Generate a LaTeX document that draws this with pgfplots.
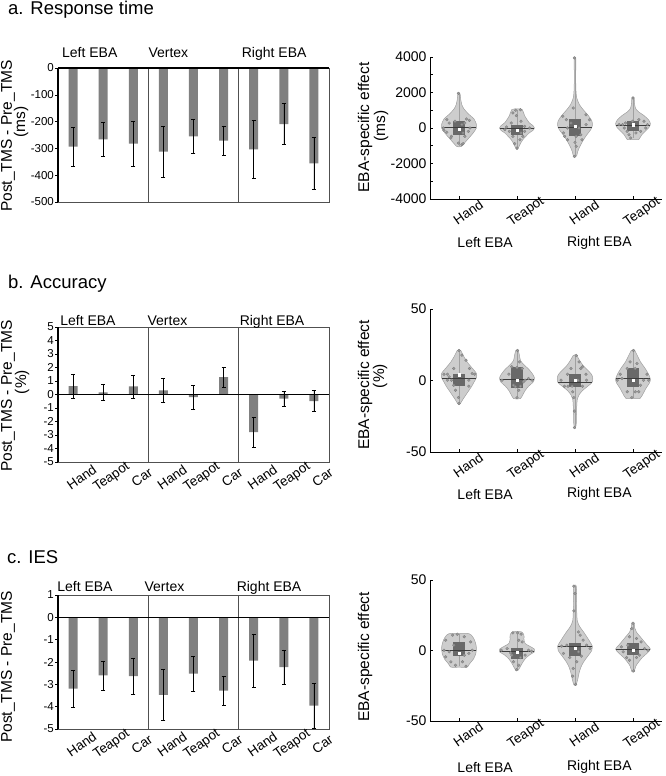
\documentclass[border=0pt]{standalone}
\usepackage{fontspec}
\setmainfont{Liberation Sans}
\usepackage{pgfplots}
\usepackage{pgfplotstable}
\pgfplotsset{compat=1.18}

\definecolor{bargray}{RGB}{128,128,128}
\definecolor{vfill}{RGB}{205,205,205}
\definecolor{vedge}{RGB}{160,160,160}
\definecolor{ptfill}{RGB}{155,155,155}
\definecolor{ptedge}{RGB}{125,125,125}
\definecolor{boxgray}{RGB}{105,105,105}
\definecolor{meanline}{RGB}{60,60,60}
\definecolor{framec}{RGB}{80,80,80}

% ---------- violin outlines (y, half-width) ----------
\pgfplotstableread[row sep=\\]{y w\\ 2000 0\\ 1900 0.02\\ 1600 0.03\\ 1350 0.045\\ 1100 0.08\\ 800 0.16\\ 500 0.26\\ 200 0.30\\ 0 0.30\\ -300 0.24\\ -600 0.16\\ -900 0.08\\ -1030 0.045\\ -1060 0\\}\VaA
\pgfplotstableread[row sep=\\]{y w\\ 1080 0\\ 1040 0.09\\ 700 0.13\\ 300 0.21\\ 150 0.27\\ 0 0.30\\ -150 0.27\\ -280 0.21\\ -660 0.10\\ -940 0.05\\ -1150 0.02\\ -1230 0\\}\VaB
\pgfplotstableread[row sep=\\]{y w\\ 3980 0\\ 3900 0.015\\ 3000 0.012\\ 2200 0.015\\ 1700 0.03\\ 1300 0.08\\ 1000 0.15\\ 700 0.23\\ 400 0.29\\ 150 0.30\\ -100 0.27\\ -400 0.20\\ -700 0.14\\ -1000 0.09\\ -1300 0.05\\ -1550 0.03\\ -1650 0\\}\VaC
\pgfplotstableread[row sep=\\]{y w\\ 1760 0\\ 1700 0.02\\ 1400 0.025\\ 1100 0.045\\ 900 0.10\\ 700 0.19\\ 450 0.27\\ 250 0.30\\ 50 0.28\\ -150 0.22\\ -350 0.16\\ -550 0.12\\ -650 0.10\\ -660 0\\}\VaD

\pgfplotstableread[row sep=\\]{y w\\ 21.5 0\\ 21 0.03\\ 17 0.08\\ 13 0.14\\ 9 0.22\\ 5 0.30\\ 2 0.30\\ -1 0.26\\ -4 0.22\\ -7 0.17\\ -10 0.12\\ -13 0.07\\ -16.3 0.02\\ -16.8 0\\}\VbA
\pgfplotstableread[row sep=\\]{y w\\ 21.5 0\\ 21 0.02\\ 18 0.04\\ 14 0.06\\ 11 0.12\\ 8 0.20\\ 5 0.26\\ 2 0.30\\ -1 0.28\\ -4 0.20\\ -7 0.14\\ -10 0.10\\ -12.6 0.06\\ -12.8 0\\}\VbB
\pgfplotstableread[row sep=\\]{y w\\ 18 0\\ 17.5 0.03\\ 14 0.08\\ 10 0.15\\ 6 0.25\\ 3 0.30\\ -1 0.30\\ -4 0.22\\ -7 0.13\\ -10 0.07\\ -13 0.04\\ -18 0.03\\ -25 0.025\\ -31 0.02\\ -33.8 0\\}\VbC
\pgfplotstableread[row sep=\\]{y w\\ 21.5 0\\ 21 0.03\\ 17 0.08\\ 13 0.13\\ 9 0.20\\ 5 0.26\\ 1 0.30\\ -2 0.28\\ -5 0.23\\ -8 0.19\\ -11 0.15\\ -12.6 0.12\\ -12.7 0\\}\VbD

\pgfplotstableread[row sep=\\]{y w\\ 12 0\\ 12 0.17\\ 9.5 0.24\\ 6 0.28\\ 2 0.30\\ -2 0.29\\ -6 0.25\\ -9.5 0.18\\ -11.8 0.14\\ -11.8 0\\}\VcA
\pgfplotstableread[row sep=\\]{y w\\ 13.5 0\\ 13.2 0.08\\ 11 0.12\\ 8 0.12\\ 5 0.14\\ 3 0.22\\ 1 0.30\\ -1 0.30\\ -3 0.22\\ -6 0.14\\ -9 0.09\\ -12 0.05\\ -14 0.02\\ -14.3 0\\}\VcB
\pgfplotstableread[row sep=\\]{y w\\ 46.5 0\\ 46 0.02\\ 40 0.03\\ 33 0.025\\ 27 0.03\\ 21 0.04\\ 17 0.08\\ 13 0.15\\ 8 0.23\\ 3 0.30\\ 0 0.29\\ -4 0.22\\ -8 0.15\\ -12 0.10\\ -16 0.07\\ -20 0.05\\ -24.3 0.02\\ -24.8 0\\}\VcC
\pgfplotstableread[row sep=\\]{y w\\ 20 0\\ 19.6 0.02\\ 16 0.03\\ 13 0.06\\ 10 0.12\\ 7 0.18\\ 4 0.24\\ 1 0.30\\ -2 0.24\\ -5 0.16\\ -8 0.10\\ -11 0.05\\ -15 0.02\\ -15.3 0\\}\VcD

% ---------- individual points (dx, y) ----------
\pgfplotstableread[row sep=\\]{dx y\\ -0.01 1950\\ -0.21 470\\ -0.17 280\\ -0.26 -130\\ -0.21 -240\\ -0.13 -470\\ -0.14 -560\\ -0.01 -850\\ 0.05 -940\\ 0.07 -880\\ -0.07 380\\ 0.13 510\\ 0.18 430\\ 0.10 280\\ 0.05 190\\ 0.19 0\\ 0.16 -190\\ 0.07 -280\\ 0.10 -470\\ -0.27 0\\}\PaA
\pgfplotstableread[row sep=\\]{dx y\\ -0.02 1000\\ 0.06 1030\\ -0.07 850\\ -0.01 700\\ -0.10 280\\ 0.07 380\\ 0.13 90\\ 0.22 0\\ -0.21 -90\\ -0.13 -190\\ 0.13 -190\\ 0.10 -470\\ -0.07 -470\\ -0.04 -880\\ 0.0 -1130\\ 0.05 -660\\ 0.07 -280\\ -0.18 56\\}\PaB
\pgfplotstableread[row sep=\\]{dx y\\ -0.01 3950\\ -0.03 1130\\ -0.21 660\\ -0.15 470\\ 0.19 750\\ 0.25 470\\ 0.19 190\\ -0.20 -280\\ -0.18 -470\\ -0.13 -660\\ 0.02 -470\\ 0.10 -380\\ 0.12 -660\\ 0.0 -810\\ 0.02 -1030\\ -0.01 -1600\\ -0.07 280\\ 0.07 0\\ -0.13 0\\}\PaC
\pgfplotstableread[row sep=\\]{dx y\\ 0.0 1690\\ -0.24 190\\ -0.18 190\\ -0.13 280\\ 0.10 470\\ 0.19 380\\ 0.25 190\\ 0.22 0\\ -0.07 -380\\ -0.04 -560\\ 0.05 -280\\ 0.13 -190\\ -0.10 -190\\ -0.01 380\\ -0.15 0\\}\PaD

\pgfplotstableread[row sep=\\]{dx y\\ 0.0 21\\ 0.05 17.7\\ 0.12 14.2\\ -0.09 8.4\\ 0.18 8.4\\ -0.26 4.4\\ -0.2 4.4\\ 0.23 4.9\\ 0.27 4.4\\ -0.2 0.2\\ -0.13 0.2\\ 0.17 0.2\\ -0.09 -3.3\\ 0.17 -4\\ -0.06 -6.8\\ -0.01 -11.9\\ 0.0 -16.1\\ -0.17 2.6\\}\PbA
\pgfplotstableread[row sep=\\]{dx y\\ 0.01 21\\ 0.04 13\\ -0.09 9.6\\ 0.0 9.1\\ 0.09 8.4\\ -0.14 4.4\\ 0.2 1.4\\ 0.26 0.2\\ -0.26 0.2\\ 0.14 0.2\\ -0.06 -3.3\\ 0.06 -4\\ -0.03 -4.4\\ 0.03 -6.8\\ 0.0 -12.1\\ 0.11 -0.9\\}\PbB
\pgfplotstableread[row sep=\\]{dx y\\ 0.02 17.5\\ 0.07 13\\ -0.07 8.4\\ 0.10 8.4\\ 0.13 9.6\\ -0.13 4.4\\ 0.19 4.4\\ -0.24 0.2\\ -0.18 -4\\ -0.12 -4\\ -0.05 -4\\ 0.13 -4\\ 0.2 0.2\\ -0.04 -7.9\\ -0.02 -11.9\\ -0.01 -21.4\\ -0.01 -32.9\\ 0.05 0.2\\}\PbC
\pgfplotstableread[row sep=\\]{dx y\\ 0.01 21\\ -0.05 13\\ 0.07 11.9\\ -0.1 8.4\\ 0.04 8.4\\ -0.22 4.4\\ 0.24 4.4\\ -0.27 0.2\\ 0.27 0.2\\ 0.18 0.2\\ -0.1 -7.9\\ 0.04 -7.9\\ 0.1 -7.9\\ -0.02 -11.9\\ -0.19 1.4\\ 0.13 -3.3\\}\PbD

\pgfplotstableread[row sep=\\]{dx y\\ -0.23 7.3\\ -0.11 10.9\\ -0.03 11.6\\ 0.09 9.7\\ 0.2 6.1\\ -0.26 0.2\\ -0.17 -0.9\\ -0.23 -4.5\\ -0.14 -8\\ -0.06 -10.4\\ 0.12 -11.2\\ 0.06 -8\\ 0.17 -2.1\\ 0.23 0.2\\ -0.09 3.8\\ 0.09 -3.3\\}\PcA
\pgfplotstableread[row sep=\\]{dx y\\ -0.07 12.5\\ 0.01 12.5\\ 0.07 11.6\\ 0.03 7.3\\ 0.09 6.1\\ -0.17 1.4\\ -0.27 0.2\\ 0.2 0.2\\ 0.25 -0.5\\ -0.09 -3.3\\ 0.06 -5\\ -0.06 -8\\ 0.03 -10.4\\ -0.01 -13.6\\ 0.14 -3.3\\ -0.11 -1.7\\}\PcB
\pgfplotstableread[row sep=\\]{dx y\\ -0.02 45.6\\ 0.0 40.4\\ -0.02 28.1\\ 0.06 13.2\\ 0.09 10.9\\ 0.14 7.3\\ -0.23 3.1\\ -0.14 3.8\\ 0.2 3.8\\ 0.26 1.4\\ -0.2 -2.1\\ -0.09 -5\\ 0.11 -4\\ 0.03 -8\\ -0.03 -12.8\\ -0.04 -18.2\\ 0.01 -24\\ 0.06 -0.9\\}\PcC
\pgfplotstableread[row sep=\\]{dx y\\ 0.0 19.4\\ -0.02 15.6\\ -0.06 9.7\\ 0.06 8.5\\ 0.14 6.1\\ -0.2 2.6\\ -0.17 -0.9\\ 0.2 1.4\\ 0.26 0.2\\ -0.11 -5\\ 0.06 -5\\ 0.11 -3.3\\ -0.06 -6.9\\ 0.01 -14.4\\ -0.09 3.8\\}\PcD

\newcommand{\violin}[2]{%
  \addplot[fill=vfill, draw=vedge, line width=0.5pt, smooth] table[x expr=#1-\thisrow{w}, y=y] {#2};
  \addplot[fill=vfill, draw=vedge, line width=0.5pt, smooth] table[x expr=#1+\thisrow{w}, y=y] {#2};
}
\newcommand{\vpts}[2]{%
  \addplot[only marks, mark=*, mark size=1.4pt, mark options={fill=ptfill, draw=ptedge, line width=0.3pt}] table[x expr=#1+\thisrow{dx}, y=y] {#2};
}

\pgfplotsset{
  barax/.style={scale only axis, width=271pt, xmin=0.5, xmax=9.5, clip=false,
    axis line style={draw=framec, line width=0.6pt},
    ytick pos=left, tick align=outside, major tick length=3pt,
    tick style={draw=black, line width=0.5pt}, xtick style={draw=none},
    every tick label/.append style={font=\fontsize{11.5}{13}\selectfont},
    yticklabel style={inner sep=1pt},
    /pgf/number format/assume math mode=true,
    xticklabel style={rotate=35, anchor=center, yshift=-15pt, font=\fontsize{13.5}{15}\selectfont}},
  violax/.style={scale only axis, width=232pt, xmin=0.5, xmax=4.5, clip=false,
    axis x line=bottom, axis y line=left, axis line style={-, draw=black, line width=0.6pt},
    tick align=inside, major tick length=3pt, minor tick length=3pt,
    tick style={black, line width=0.5pt},
    xtick={1,2,3,4}, xticklabels={Hand,Teapot,Hand,Teapot},
    xticklabel style={rotate=35, anchor=center, yshift=-16pt, font=\fontsize{13.5}{15}\selectfont},
    yticklabel style={font=\fontsize{14}{16}\selectfont},
    /pgf/number format/assume math mode=true, /pgf/number format/1000 sep={},
    scaled y ticks=false},
  ebar/.style={ybar, bar width=9pt, fill=bargray, draw=none,
    error bars/.cd, y dir=both, y explicit,
    error bar style={black, line width=0.5pt},
    error mark options={rotate=90, black, mark size=2pt, line width=0.6pt}},
}

\begin{document}
\begin{tikzpicture}
\path[use as bounding box] (0,0) rectangle (666pt,-776pt);

% titles
\node[anchor=base west, inner sep=0, font=\fontsize{18.5}{22}\selectfont] at (8pt,-15pt) {a. Response time};
\node[anchor=base west, inner sep=0, font=\fontsize{18.5}{22}\selectfont] at (8pt,-288pt) {b. Accuracy};
\node[anchor=base west, inner sep=0, font=\fontsize{18.5}{22}\selectfont] at (7pt,-563pt) {c. IES};

% y labels
\begin{scope}[every node/.style={rotate=90, font=\fontsize{15.5}{17}\selectfont, inner sep=0}]
\node at (8pt,-136pt) {Post\_TMS - Pre\_TMS};
\node at (21pt,-122pt) {(ms)};
\node at (8pt,-396pt) {Post\_TMS - Pre\_TMS};
\node at (22pt,-382pt) {(\%)};
\node at (8pt,-667pt) {Post\_TMS - Pre\_TMS};
\node at (365pt,-127.5pt) {EBA-specific effect};
\node at (381pt,-126pt) {(ms)};
\node at (365pt,-385pt) {EBA-specific effect};
\node at (380pt,-376pt) {(\%)};
\node at (365pt,-657pt) {EBA-specific effect};
\end{scope}

% ================= a: bars =================
\begin{axis}[barax, at={(58pt,-68pt)}, anchor=north west, height=134pt,
  ymin=-500, ymax=0, ytick={-500,-400,-300,-200,-100,0}, xtick=\empty]
\addplot[framec, line width=0.7pt] coordinates {(3.5,-500) (3.5,0)};
\addplot[framec, line width=0.7pt] coordinates {(6.5,-500) (6.5,0)};
\addplot[ebar] coordinates {(1,-293) +- (0,72) (2,-266) +- (0,64) (3,-282) +- (0,83)
  (4,-312) +- (0,94) (5,-255) +- (0,62) (6,-271) +- (0,55)
  (7,-304) +- (0,107) (8,-209) +- (0,77) (9,-356) +- (0,97)};
\addplot[black, line width=1.6pt] coordinates {(0.5,0) (9.5,0)};
\addplot[black, line width=1.6pt] coordinates {(0.5,-500) (0.5,0)};
\begin{scope}[every node/.style={anchor=base west, inner sep=0, font=\fontsize{14}{16}\selectfont}]
\node[yshift=10pt] at (axis cs:0.63,0) {Left EBA};
\node[yshift=10pt] at (axis cs:3.5,0) {Vertex};
\node[yshift=10pt] at (axis cs:6.6,0) {Right EBA};
\end{scope}
\end{axis}

% ================= b: bars =================
\begin{axis}[barax, at={(58pt,-327pt)}, anchor=north west, height=135pt,
  ymin=-5, ymax=5, ytick={-5,-4,...,5},
  xtick={1,...,9}, xticklabels={Hand,Teapot,Car,Hand,Teapot,Car,Hand,Teapot,Car}]
\addplot[framec, line width=0.7pt] coordinates {(3.5,-5) (3.5,5)};
\addplot[framec, line width=0.7pt] coordinates {(6.5,-5) (6.5,5)};
\addplot[ebar] coordinates {(1,0.62) +- (0,0.87) (2,0.16) +- (0,0.58) (3,0.60) +- (0,0.85)
  (4,0.30) +- (0,0.90) (5,-0.20) +- (0,0.87) (6,1.28) +- (0,0.74)
  (7,-2.78) +- (0,1.12) (8,-0.30) +- (0,0.57) (9,-0.49) +- (0,0.77)};
\addplot[black, line width=1.6pt] coordinates {(0.5,0) (9.5,0)};
\addplot[black, line width=1.6pt] coordinates {(0.5,-5) (0.5,5)};
\begin{scope}[every node/.style={anchor=base west, inner sep=0, font=\fontsize{14}{16}\selectfont}]
\node[yshift=2pt] at (axis cs:0.57,5) {Left EBA};
\node[yshift=2pt] at (axis cs:3.47,5) {Vertex};
\node[yshift=2pt] at (axis cs:6.53,5) {Right EBA};
\end{scope}
\end{axis}

% ================= c: bars =================
\begin{axis}[barax, at={(58pt,-595pt)}, anchor=north west, height=134pt,
  ymin=-5, ymax=1, ytick={-5,-4,...,1},
  xtick={1,...,9}, xticklabels={Hand,Teapot,Car,Hand,Teapot,Car,Hand,Teapot,Car}]
\addplot[framec, line width=0.7pt] coordinates {(3.5,-5) (3.5,1)};
\addplot[framec, line width=0.7pt] coordinates {(6.5,-5) (6.5,1)};
\addplot[ebar] coordinates {(1,-3.19) +- (0,0.82) (2,-2.60) +- (0,0.65) (3,-2.63) +- (0,0.80)
  (4,-3.47) +- (0,1.15) (5,-2.52) +- (0,0.78) (6,-3.28) +- (0,0.65)
  (7,-1.94) +- (0,1.20) (8,-2.23) +- (0,0.77) (9,-3.95) +- (0,1.00)};
\addplot[black, line width=1.6pt] coordinates {(0.5,0) (9.5,0)};
\addplot[black, line width=1.6pt] coordinates {(0.5,-5) (0.5,1)};
\begin{scope}[every node/.style={anchor=base west, inner sep=0, font=\fontsize{14}{16}\selectfont}]
\node[yshift=4pt] at (axis cs:0.47,1) {Left EBA};
\node[yshift=4pt] at (axis cs:3.37,1) {Vertex};
\node[yshift=4pt] at (axis cs:6.43,1) {Right EBA};
\end{scope}
\end{axis}

% ================= a: violins =================
\begin{axis}[violax, at={(430pt,-57pt)}, anchor=north west, height=142pt,
  ymin=-4000, ymax=4000, ytick={-4000,-2000,0,2000,4000}, minor ytick={-3000,-1000,1000,3000}]
\violin{1}{\VaA}
\violin{2}{\VaB}
\violin{3}{\VaC}
\violin{4}{\VaD}
\addplot[vedge, line width=0.4pt] coordinates {(1,-1000) (1,1950)};
\addplot[vedge, line width=0.4pt] coordinates {(2,-1130) (2,1030)};
\addplot[vedge, line width=0.4pt] coordinates {(3,-1600) (3,3950)};
\addplot[vedge, line width=0.4pt] coordinates {(4,-560) (4,1690)};
\vpts{1}{\PaA}
\vpts{2}{\PaB}
\vpts{3}{\PaC}
\vpts{4}{\PaD}
\addplot[fill=boxgray, draw=none] coordinates {(0.9,-380) (1.1,-380) (1.1,380) (0.9,380)};
\addplot[fill=boxgray, draw=none] coordinates {(1.9,-380) (2.1,-380) (2.1,190) (1.9,190)};
\addplot[fill=boxgray, draw=none] coordinates {(2.9,-470) (3.1,-470) (3.1,510) (2.9,510)};
\addplot[fill=boxgray, draw=none] coordinates {(3.9,-190) (4.1,-190) (4.1,380) (3.9,380)};
\addplot[meanline, line width=0.7pt] coordinates {(0.7,40) (1.3,40)};
\addplot[meanline, line width=0.7pt] coordinates {(1.7,-20) (2.3,-20)};
\addplot[meanline, line width=0.7pt] coordinates {(2.7,60) (3.3,60)};
\addplot[meanline, line width=0.7pt] coordinates {(3.71,150) (4.29,150)};
\addplot[only marks, mark=square*, mark size=1.1pt, mark options={fill=white, draw=white}] coordinates {(1,-90) (2,-130) (3,100) (4,190)};
\node[font=\fontsize{14}{16}\selectfont, yshift=-44pt] at (axis cs:1.45,-4000) {Left EBA};
\node[font=\fontsize{14}{16}\selectfont, yshift=-44pt] at (axis cs:3.42,-4000) {Right EBA};
\end{axis}

% ================= b: violins =================
\begin{axis}[violax, at={(430pt,-309pt)}, anchor=north west, height=143pt,
  ymin=-50, ymax=50, ytick={-50,0,50}]
\violin{1}{\VbA}
\violin{2}{\VbB}
\violin{3}{\VbC}
\violin{4}{\VbD}
\addplot[vedge, line width=0.4pt] coordinates {(1,-16.1) (1,21)};
\addplot[vedge, line width=0.4pt] coordinates {(2,-12.1) (2,21)};
\addplot[vedge, line width=0.4pt] coordinates {(3,-32.9) (3,17.5)};
\addplot[vedge, line width=0.4pt] coordinates {(4,-11.9) (4,21)};
\vpts{1}{\PbA}
\vpts{2}{\PbB}
\vpts{3}{\PbC}
\vpts{4}{\PbD}
\addplot[fill=boxgray, draw=none] coordinates {(0.9,-4) (1.1,-4) (1.1,4.4) (0.9,4.4)};
\addplot[fill=boxgray, draw=none] coordinates {(1.9,-4.9) (2.1,-4.9) (2.1,9.1) (1.9,9.1)};
\addplot[fill=boxgray, draw=none] coordinates {(2.9,-4.4) (3.1,-4.4) (3.1,4.4) (2.9,4.4)};
\addplot[fill=boxgray, draw=none] coordinates {(3.9,-4.4) (4.1,-4.4) (4.1,8.4) (3.9,8.4)};
\addplot[meanline, line width=0.7pt] coordinates {(0.7,1.4) (1.3,1.4)};
\addplot[meanline, line width=0.7pt] coordinates {(1.7,1) (2.3,1)};
\addplot[meanline, line width=0.7pt] coordinates {(2.7,-1) (3.3,-1)};
\addplot[meanline, line width=0.7pt] coordinates {(3.7,1.4) (4.3,1.4)};
\addplot[only marks, mark=square*, mark size=1.1pt, mark options={fill=white, draw=white}] coordinates {(1,4) (2,0.2) (3,0.2) (4,0.2)};
\node[font=\fontsize{14}{16}\selectfont, yshift=-42pt] at (axis cs:1.45,-50) {Left EBA};
\node[font=\fontsize{14}{16}\selectfont, yshift=-42pt] at (axis cs:3.42,-50) {Right EBA};
\end{axis}

% ================= c: violins =================
\begin{axis}[violax, at={(430pt,-580pt)}, anchor=north west, height=141pt,
  ymin=-50, ymax=50, ytick={-50,0,50}]
\violin{1}{\VcA}
\violin{2}{\VcB}
\violin{3}{\VcC}
\violin{4}{\VcD}
\addplot[vedge, line width=0.4pt] coordinates {(1,-11.2) (1,11.6)};
\addplot[vedge, line width=0.4pt] coordinates {(2,-13.6) (2,12.5)};
\addplot[vedge, line width=0.4pt] coordinates {(3,-24) (3,45.6)};
\addplot[vedge, line width=0.4pt] coordinates {(4,-14.4) (4,19.4)};
\vpts{1}{\PcA}
\vpts{2}{\PcB}
\vpts{3}{\PcC}
\vpts{4}{\PcD}
\addplot[fill=boxgray, draw=none] coordinates {(0.9,-4) (1.1,-4) (1.1,6.1) (0.9,6.1)};
\addplot[fill=boxgray, draw=none] coordinates {(1.9,-5.7) (2.1,-5.7) (2.1,1.9) (1.9,1.9)};
\addplot[fill=boxgray, draw=none] coordinates {(2.9,-4) (3.1,-4) (3.1,5.4) (2.9,5.4)};
\addplot[fill=boxgray, draw=none] coordinates {(3.9,-3.3) (4.1,-3.3) (4.1,5.4) (3.9,5.4)};
\addplot[meanline, line width=0.7pt] coordinates {(0.71,-0.2) (1.29,-0.2)};
\addplot[meanline, line width=0.7pt] coordinates {(1.7,-0.5) (2.3,-0.5)};
\addplot[meanline, line width=0.7pt] coordinates {(2.7,2.6) (3.3,2.6)};
\addplot[meanline, line width=0.7pt] coordinates {(3.7,1) (4.3,1)};
\addplot[only marks, mark=square*, mark size=1.1pt, mark options={fill=white, draw=white}] coordinates {(1,-1.7) (2,-1) (3,1.9) (4,0.2)};
\node[font=\fontsize{14}{16}\selectfont, yshift=-46pt] at (axis cs:1.45,-50) {Left EBA};
\node[font=\fontsize{14}{16}\selectfont, yshift=-46pt] at (axis cs:3.42,-50) {Right EBA};
\end{axis}
\end{tikzpicture}
\end{document}
